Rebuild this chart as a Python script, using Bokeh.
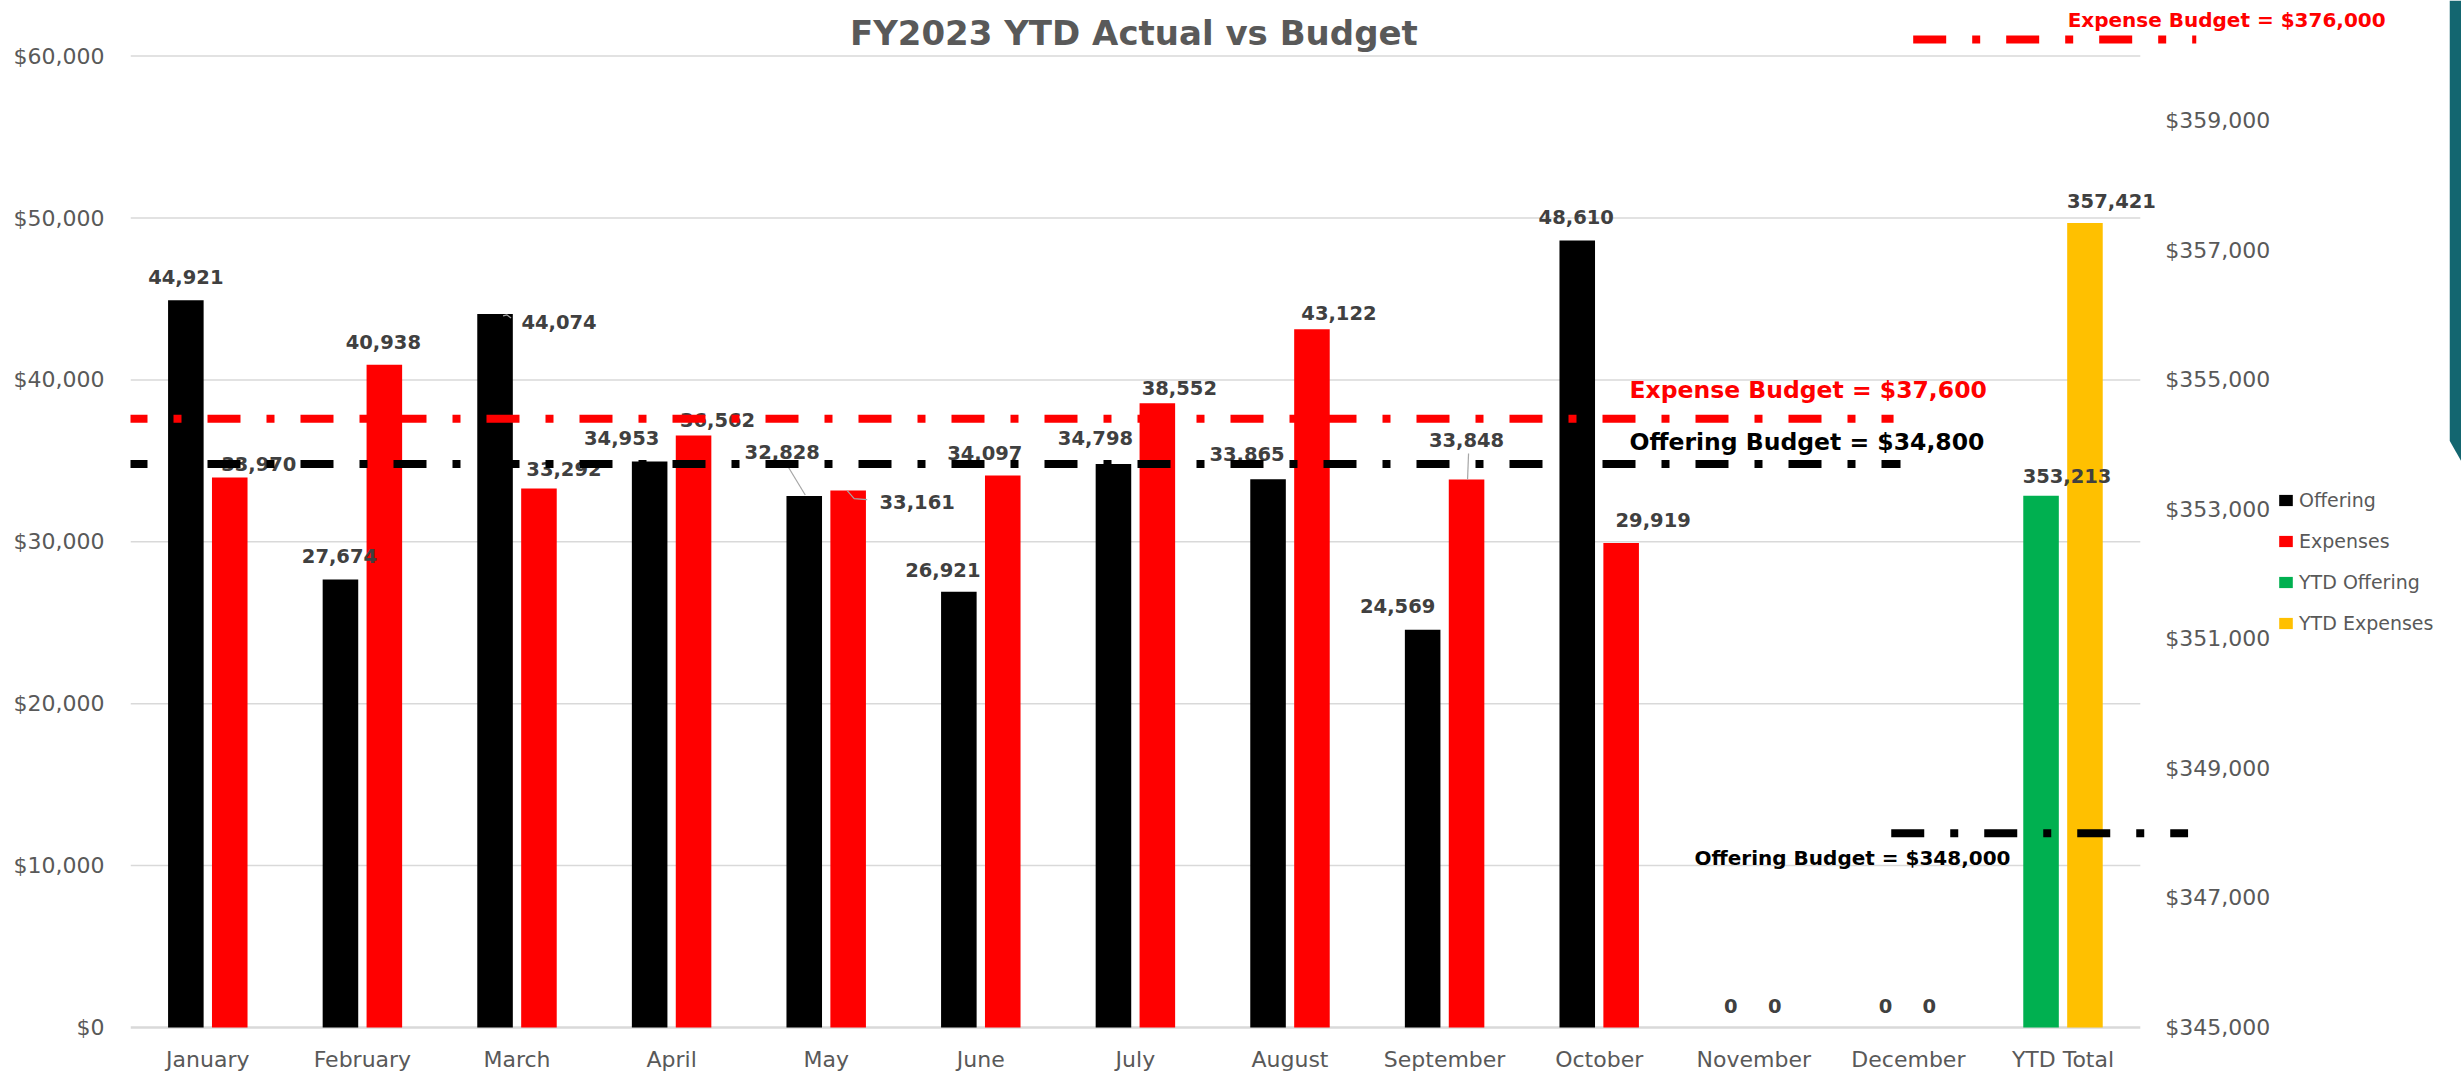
from bokeh.plotting import figure
from bokeh.layouts import row
from bokeh.models import (FactorRange, Range1d, LinearAxis, FixedTicker, NumeralTickFormatter,
                          ColumnDataSource, LabelSet, Label, Legend, LegendItem, Arrow)
from bokeh.transform import dodge
from bokeh.core.properties import value
from bokeh.embed import file_html
from bokeh.resources import INLINE

# ---------------- data ----------------
months = ["January", "February", "March", "April", "May", "June", "July",
          "August", "September", "October", "November", "December"]
categories = months + ["YTD Total"]
offering = [44921, 27674, 44074, 34953, 32828, 26921, 34798, 33865, 24569, 48610, 0, 0]
expenses = [33970, 40938, 33292, 36562, 33161, 34097, 38552, 43122, 33848, 29919, 0, 0]
ytd_offering = [353213]
ytd_expenses = [357421]
offering_budget = 34800
expense_budget = 37600
ytd_offering_budget = 348000
ytd_expense_budget = 376000
left_ticks = [0, 10000, 20000, 30000, 40000, 50000, 60000]
right_ticks = [345000, 347000, 349000, 351000, 353000, 355000, 357000, 359000]

# ---------------- label placement (pixels) ----------------
off_dx = [0, -1, 64, -28, -22, -16, -18, -21, -25, -1, -1, -1]
off_dy = [23, 23, -8, 23.5, 44.5, 22, 26, 25.7, 23.6, 23.5, 22, 22]
exp_dx = [29, -1, 25, 24, 69, -18, 22, 27, 0, 32, -1, -1]
exp_dy = [14, 22.5, 19.3, 16, -11.7, 22.5, 15.3, 16, 40, 23.6, 22, 22]
ytd_off_dx, ytd_off_dy = [26], [20]
ytd_exp_dx, ytd_exp_dy = [26.5], [21.7]

FONT = "DejaVu Sans"
GRAY = "#595959"
LBL = "#404040"
GRID = "#D9D9D9"
TEAL = "#136670"
DASH = "33 26 8 26"
CAT_PX = 154.6            # pixels per category
H = 1073
PX_PER_UNIT = 0.01619     # left axis: pixels per dollar
ZERO_PX = 1027            # canvas row of $0
Y_START = -(H - ZERO_PX) / PX_PER_UNIT
Y_TOP = ZERO_PX / PX_PER_UNIT
PXY = 1 / PX_PER_UNIT
R_MIN = right_ticks[0]
R_START = R_MIN + Y_START / 4.0
R_TOP = R_MIN + Y_TOP / 4.0
OFF = -0.142
EXP = 0.142
BW = 0.23
N = len(categories)
pad_factors = [" ", "  "]  # empty space right of the categories (right axis, legend)

p = figure(x_range=FactorRange(factors=categories + pad_factors, range_padding=0),
           y_range=Range1d(Y_START, Y_TOP),
           frame_width=int(round(CAT_PX * (N + len(pad_factors)))), frame_height=H,
           min_border_left=130, min_border_right=0, min_border_top=0, min_border_bottom=0,
           output_backend="svg", toolbar_location=None,
           background_fill_color="white", border_fill_color="white",
           outline_line_color=None)
p.extra_y_ranges = {"right": Range1d(R_START, R_TOP)}

# gridlines limited to the category area
p.ygrid.visible = False
p.xgrid.visible = False
p.segment(x0=[0] * (len(left_ticks) - 1), x1=[N] * (len(left_ticks) - 1),
          y0=left_ticks[1:], y1=left_ticks[1:], line_color=GRID, line_width=1.5)
p.segment(x0=[0], x1=[N], y0=left_ticks[:1], y1=left_ticks[:1], line_color=GRID, line_width=2.5)

src = ColumnDataSource(dict(
    cat=months, offering=offering, expenses=expenses,
    off_txt=[f"{v:,}" for v in offering], exp_txt=[f"{v:,}" for v in expenses],
    off_dx=off_dx, off_dy=off_dy, exp_dx=exp_dx, exp_dy=exp_dy))
ysrc = ColumnDataSource(dict(
    cat=["YTD Total"], yo=ytd_offering, ye=ytd_expenses, base=[R_MIN],
    yo_txt=[f"{v:,}" for v in ytd_offering], ye_txt=[f"{v:,}" for v in ytd_expenses],
    yo_dx=ytd_off_dx, yo_dy=ytd_off_dy, ye_dx=ytd_exp_dx, ye_dy=ytd_exp_dy))

r_off = p.vbar(x=dodge("cat", OFF, range=p.x_range), top="offering", width=BW, source=src,
               fill_color="#000000", line_color=None)
r_exp = p.vbar(x=dodge("cat", EXP, range=p.x_range), top="expenses", width=BW, source=src,
               fill_color="#FF0000", line_color=None)
r_yo = p.vbar(x=dodge("cat", OFF, range=p.x_range), top="yo", bottom="base", width=BW, source=ysrc,
              y_range_name="right", fill_color="#00B050", line_color=None)
r_ye = p.vbar(x=dodge("cat", EXP, range=p.x_range), top="ye", bottom="base", width=BW, source=ysrc,
              y_range_name="right", fill_color="#FFC000", line_color=None)

# leader lines (pixel offsets from bar tops)
def leader(cat, off, top, pts):
    i = categories.index(cat) + 0.5 + off
    return dict(xs=[i + dx / CAT_PX for dx, dy in pts], ys=[top + dy * PXY for dx, dy in pts])

leads = [leader("May", OFF, offering[4], [(1, 1), (-19, 34)]),
         leader("May", EXP, expenses[4], [(-1, 0), (6, -8), (19, -9)]),
         leader("September", EXP, expenses[8], [(1, 0), (2, 26)]),
         leader("March", OFF, offering[2], [(8, -2), (12, -1), (16, -4)])]
p.multi_line(xs=[l["xs"] for l in leads], ys=[l["ys"] for l in leads],
             line_color="#A6A6A6", line_width=1.2)

# axes
yax = p.yaxis[0]
yax.ticker = FixedTicker(ticks=left_ticks)
yax.formatter = NumeralTickFormatter(format="$0,0")

rax = LinearAxis(y_range_name="right", ticker=FixedTicker(ticks=right_ticks),
                 formatter=NumeralTickFormatter(format="$0,0"), fixed_location=N)
p.add_layout(rax, "right")

for ax, so in ((yax, 26), (rax, 25)):
    ax.axis_line_color = None
    ax.major_tick_line_color = None
    ax.minor_tick_line_color = None
    ax.major_tick_out = 0
    ax.major_tick_in = 0
    ax.major_label_standoff = so
    ax.major_label_text_font = FONT
    ax.major_label_text_font_size = "22px"
    ax.major_label_text_color = GRAY

xax = p.xaxis[0]
xax.fixed_location = 0
xax.axis_line_color = None
xax.major_tick_line_color = None
xax.minor_tick_line_color = None
xax.major_tick_out = 0
xax.major_tick_in = 0
xax.major_label_standoff = 19
xax.major_label_text_font = FONT
xax.major_label_text_font_size = "22px"
xax.major_label_text_color = GRAY

# data labels
def lset(source, x, y, txt, dx, dy, rng="default"):
    return LabelSet(x=x, y=y, text=txt, x_offset=dx, y_offset=dy, source=source,
                    y_range_name=rng, text_align="center", text_baseline="middle",
                    text_font=value(FONT), text_font_style="bold",
                    text_font_size="19.5px", text_color=LBL)

p.add_layout(lset(src, dodge("cat", OFF, range=p.x_range), "offering", "off_txt", "off_dx", "off_dy"))
p.add_layout(lset(src, dodge("cat", EXP, range=p.x_range), "expenses", "exp_txt", "exp_dx", "exp_dy"))
p.add_layout(lset(ysrc, dodge("cat", OFF, range=p.x_range), "yo", "yo_txt", "yo_dx", "yo_dy", "right"))
p.add_layout(lset(ysrc, dodge("cat", EXP, range=p.x_range), "ye", "ye_txt", "ye_dx", "ye_dy", "right"))

# budget lines (dash-dot)
def dline(x0, x1, y, color, rng="default"):
    return Arrow(end=None, x_start=x0, x_end=x1, y_start=y, y_end=y, y_range_name=rng,
                 line_color=color, line_width=8, line_dash=DASH)

p.add_layout(dline(-0.1035, 11.404, expense_budget, "#FF0000"))
p.add_layout(dline(-0.1035, 11.449, offering_budget, "#000000"))
p.add_layout(dline(11.389, 13.309, ytd_offering_budget, "#000000", "right"))
TOP_LINE_Y = 360256
TOP_TEXT_Y = 360565
p.add_layout(dline(11.531, 13.362, TOP_LINE_Y, "#FF0000", "right"))

def note(x, y, txt, color, size, dy=0, rng="default"):
    return Label(x=x, y=y, y_offset=dy, text=txt, y_range_name=rng,
                 text_align="left", text_baseline="middle", text_font=FONT,
                 text_font_style="bold", text_font_size=size, text_color=color)

p.add_layout(note(9.696, expense_budget, f"Expense Budget = ${expense_budget:,}", "#FF0000", "23.5px", 29))
p.add_layout(note(9.696, offering_budget, f"Offering Budget = ${offering_budget:,}", "#000000", "23.5px", 21.6))
p.add_layout(note(10.117, ytd_offering_budget, f"Offering Budget = ${ytd_offering_budget:,}",
                  "#000000", "20px", -25, "right"))
p.add_layout(note(12.53, TOP_TEXT_Y, f"Expense Budget = ${ytd_expense_budget:,}",
                  "#FF0000", "20px", 0, "right"))

# title
p.add_layout(Label(x=6.49, y=61396, text="FY2023 YTD Actual vs Budget", text_align="center",
                   text_baseline="alphabetic", text_font=FONT, text_font_style="bold",
                   text_font_size="34px", text_color=GRAY))

legend = Legend(items=[LegendItem(label="Offering", renderers=[r_off]),
                       LegendItem(label="Expenses", renderers=[r_exp]),
                       LegendItem(label="YTD Offering", renderers=[r_yo]),
                       LegendItem(label="YTD Expenses", renderers=[r_ye])],
                location=(2147, 439), glyph_width=17, glyph_height=14, label_height=14,
                label_standoff=5, spacing=19, padding=0, margin=0,
                label_text_font=FONT, label_text_font_size="19px", label_text_color=GRAY,
                border_line_color=None, background_fill_alpha=0)
p.add_layout(legend)

# teal decoration strip at the right edge of the page
edge = figure(width=12, height=H, x_range=Range1d(0, 12), y_range=Range1d(H, 0),
              min_border_left=0, min_border_right=0, min_border_top=0, min_border_bottom=0,
              output_backend="svg", toolbar_location=None, outline_line_color=None,
              background_fill_color="white", border_fill_color="white")
edge.axis.visible = False
edge.grid.visible = False
edge.patch([0, 12, 12, 0], [0, 0, 461, 440], fill_color=TEAL, line_color=None)

layout = row(p, edge, spacing=0)
open("out.html", "w").write(file_html(layout, INLINE))
